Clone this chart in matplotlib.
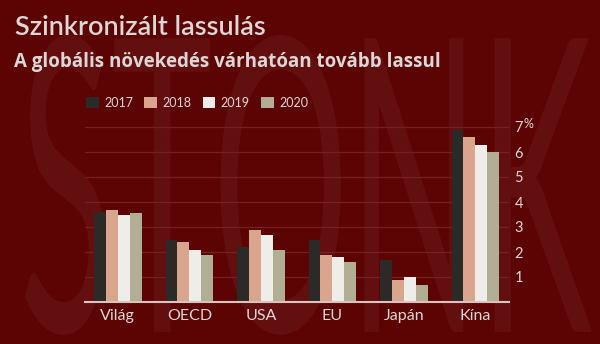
import numpy as np
import matplotlib
matplotlib.use("Agg")
import matplotlib.pyplot as plt
from matplotlib.textpath import TextPath
from matplotlib.font_manager import FontProperties
from matplotlib.patches import PathPatch
from matplotlib.transforms import Affine2D

# ── Data (GDP growth, %) ──────────────────────────────────────────────────────
regions = ["Világ", "OECD", "USA", "EU", "Japán", "Kína"]
years   = ["2017", "2018", "2019", "2020"]
g2017 = [3.6, 2.5, 2.2, 2.5, 1.7, 6.9]
g2018 = [3.7, 2.4, 2.9, 1.9, 0.9, 6.6]
g2019 = [3.5, 2.1, 2.7, 1.8, 1.0, 6.3]
g2020 = [3.55, 1.9, 2.1, 1.6, 0.7, 6.0]
yticks = [1, 2, 3, 4, 5, 6, 7]

# ── Style ─────────────────────────────────────────────────────────────────────
BG     = "#5c0303"
GRID   = "#782020"
TXT    = "#ddd6d6"
COLORS = ["#2b2a28", "#d9a58d", "#efedea", "#b1ae95"]
FONT   = "Lato"

W, H = 600, 344
fig = plt.figure(figsize=(W / 100, H / 100), dpi=100, facecolor=BG)

# watermark "STONK", stretched tall across the whole picture
fp = FontProperties(family=FONT)
tp = TextPath((0, 0), "STONK", size=100, prop=fp)
bb = tp.get_extents()
x0, x1, y0, y1 = 25 / W, 592 / W, 9 / H, 309 / H
aff = Affine2D().translate(-bb.x0, -bb.y0) \
    .scale((x1 - x0) / bb.width, (y1 - y0) / bb.height).translate(x0, y0)
wm = PathPatch(tp, transform=aff + fig.transFigure, facecolor="white",
               alpha=0.05, edgecolor="none", zorder=-5)
fig.add_artist(wm)

# ── Axes placed in pixels ─────────────────────────────────────────────────────
ax_l, ax_r, ax_b = 85, 509, 302
px_unit = 25.0
ymax = 7.2
ax_t = ax_b - ymax * px_unit
ax = fig.add_axes([ax_l / W, (H - ax_b) / H, (ax_r - ax_l) / W,
                   (ax_b - ax_t) / H])
ax.set_facecolor("none")

x = np.arange(len(regions))
bw = 0.167
for k, (vals, c) in enumerate(zip([g2017, g2018, g2019, g2020], COLORS)):
    ax.bar(x + (k - 1.5) * bw, vals, width=bw, color=c, label=years[k],
           zorder=3)

ax.set_ylim(0, ymax)
ax.set_xlim(-0.46, 5.47)
ax.set_yticks(yticks)
ax.yaxis.tick_right()
ax.tick_params(axis="y", length=0, pad=4, labelsize=10.5, labelcolor=TXT)
for lbl in ax.get_yticklabels():
    lbl.set_fontfamily(FONT)
ax.grid(axis="y", color=GRID, linewidth=0.9, zorder=0)
ax.set_xticks(x)
ax.set_xticklabels(regions, fontsize=11.5, color=TXT, fontfamily=FONT)
ax.tick_params(axis="x", length=0, pad=5)
for s in ["top", "left", "right"]:
    ax.spines[s].set_visible(False)
ax.spines["bottom"].set_color("#d8c4c0")
ax.spines["bottom"].set_linewidth(1.5)
ax.spines["bottom"].set_zorder(4)

# percent sign next to the top tick
fig.text(524 / W, 1 - 124 / H, "%", fontsize=9, color=TXT,
         fontfamily=FONT, va="center", ha="left")

# ── Titles & legend ───────────────────────────────────────────────────────────
fig.text(15 / W, 1 - 35 / H, "Szinkronizált lassulás", fontsize=19.5,
         color=TXT, fontfamily=FONT, weight="semibold", va="baseline")
fig.text(14 / W, 1 - 67 / H, "A globális növekedés várhatóan tovább lassul",
         fontsize=13.5, color=TXT, fontfamily="Open Sans", weight="bold",
         va="baseline")

leg = ax.legend(loc="center left", bbox_to_anchor=(86 / W, 1 - 103 / H),
                bbox_transform=fig.transFigure, ncol=4, frameon=False,
                borderaxespad=0, borderpad=0,
                handlelength=1.0, handleheight=1.0, handletextpad=0.45,
                columnspacing=0.9, fontsize=9)
for t in leg.get_texts():
    t.set_color(TXT)
    t.set_fontfamily(FONT)

fig.savefig("out.png", dpi=100, facecolor=BG)
